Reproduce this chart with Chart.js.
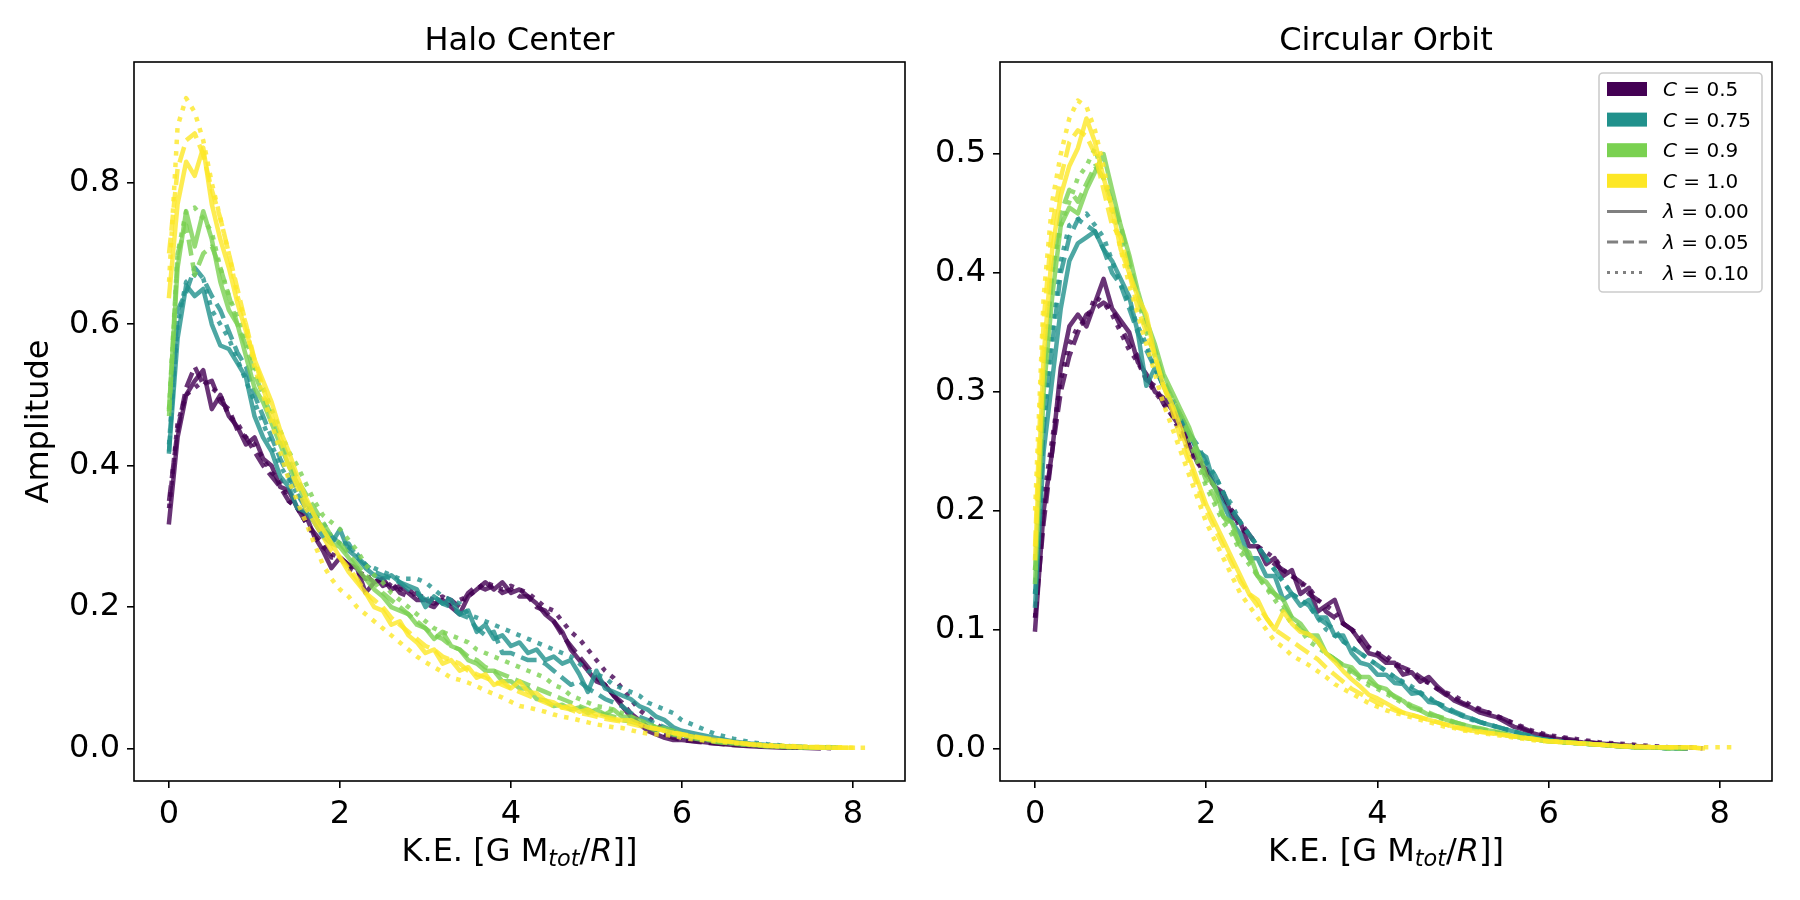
<!DOCTYPE html>
<html><head><meta charset="utf-8">
<script src="https://cdn.jsdelivr.net/npm/chart.js@4.4.1/dist/chart.umd.min.js"></script>
<style>
html,body{margin:0;padding:0;background:#fff;width:1800px;height:900px;overflow:hidden}
canvas{position:absolute;top:0}
#cL{left:0;width:920px;height:900px}
#cR{left:920px;width:880px;height:900px}
</style></head><body>
<canvas id="cL" width="920" height="900"></canvas>
<canvas id="cR" width="880" height="900"></canvas>
<script>
// ---------- data ----------
const KE = [0,0.1,0.2,0.3,0.4,0.5,0.6,0.7,0.8,0.9,
 1.0,1.1,1.2,1.3,1.4,1.5,1.6,1.7,1.8,1.9,
 2.0,2.1,2.2,2.3,2.4,2.5,2.6,2.7,2.8,2.9,
 3.0,3.1,3.2,3.3,3.4,3.5,3.6,3.7,3.8,3.9,
 4.0,4.1,4.2,4.3,4.4,4.5,4.6,4.7,4.8,4.9,
 5.0,5.1,5.2,5.3,5.4,5.5,5.6,5.7,5.8,5.9,
 6.0,6.2,6.4,6.6,6.8,7.0,7.2,7.4,7.6,7.8,8.0,8.2];

const C_LABELS = ['0.5','0.75','0.9','1.0'];
const L_LABELS = ['0.00','0.05','0.10'];
const X_TICKS = [0,2,4,6,8];
const Y_TICKS_HALO = [0,0.2,0.4,0.6,0.8];
const Y_TICKS_CIRC = [0,0.1,0.2,0.3,0.4,0.5];

// Halo Center
const haloC05L00 = [.32,.44,.50,.52,.535,.48,.50,.47,.455,.43,
 .44,.41,.40,.37,.365,.34,.33,.30,.28,.255,
 .27,.26,.255,.22,.235,.24,.225,.23,.22,.21,
 .21,.205,.21,.20,.19,.215,.225,.235,.225,.235,
 .22,.225,.215,.205,.19,.18,.165,.14,.125,.11,
 .095,.09,.075,.06,.045,.035,.025,.02,.015,.012,
 .012,.01,.007,.005,.003,.002,.001,.001,0];
const haloC05L05 = [.35,.45,.51,.54,.515,.52,.49,.48,.45,.44,
 .42,.40,.385,.37,.35,.34,.32,.305,.29,.27,
 .27,.26,.25,.24,.245,.23,.235,.22,.215,.22,
 .205,.20,.215,.21,.20,.22,.23,.225,.23,.22,
 .225,.215,.215,.20,.195,.18,.16,.145,.13,.115,
 .10,.09,.075,.065,.05,.04,.03,.025,.02,.015,
 .012,.009,.007,.005,.004,.003,.002,.001,.001];
const haloC05L10 = [.34,.46,.50,.51,.52,.51,.50,.47,.46,.44,
 .43,.41,.39,.38,.35,.34,.32,.30,.285,.275,
 .27,.255,.25,.245,.235,.24,.23,.225,.225,.215,
 .215,.21,.215,.205,.21,.215,.225,.235,.23,.225,
 .23,.225,.22,.21,.20,.195,.18,.165,.155,.14,
 .125,.11,.10,.085,.07,.055,.045,.035,.025,.02,
 .015,.012,.008,.006,.004,.003,.002,.001,.001,0];
const haloC075L00 = [.42,.58,.655,.64,.65,.60,.57,.565,.545,.525,
 .47,.44,.42,.385,.37,.34,.335,.32,.30,.29,
 .31,.28,.27,.255,.245,.24,.245,.235,.23,.225,
 .20,.215,.205,.21,.19,.195,.165,.175,.155,.16,
 .145,.15,.135,.14,.125,.13,.12,.125,.105,.08,
 .11,.085,.08,.075,.07,.06,.055,.045,.04,.03,
 .025,.02,.015,.01,.007,.005,.003,.002,.001,.001];
const haloC075L05 = [.42,.62,.645,.68,.665,.64,.62,.59,.56,.54,
 .50,.47,.44,.41,.385,.36,.34,.33,.31,.30,
 .29,.29,.27,.26,.25,.245,.24,.235,.225,.22,
 .21,.215,.205,.20,.19,.185,.17,.16,.165,.135,
 .135,.13,.125,.125,.12,.11,.10,.09,.095,.085,
 .078,.07,.065,.06,.05,.045,.04,.035,.03,.025,
 .02,.015,.012,.008,.006,.004,.003,.002,.001,.001];
const haloC075L10 = [.43,.60,.66,.67,.665,.62,.60,.58,.55,.52,
 .49,.46,.43,.40,.38,.36,.345,.33,.32,.30,
 .29,.285,.275,.26,.255,.25,.245,.24,.24,.24,
 .235,.225,.215,.21,.205,.19,.185,.18,.175,.17,
 .165,.16,.155,.15,.145,.14,.135,.13,.12,.11,
 .105,.10,.09,.085,.08,.075,.065,.06,.055,.05,
 .04,.03,.02,.014,.009,.006,.004,.002,.001,.001];
const haloC09L00 = [.48,.68,.76,.71,.76,.72,.66,.62,.60,.555,
 .51,.49,.46,.43,.40,.375,.35,.33,.31,.29,
 .285,.27,.255,.24,.225,.215,.20,.195,.19,.175,
 .17,.155,.165,.145,.14,.125,.12,.11,.11,.095,
 .095,.085,.085,.07,.068,.06,.062,.055,.058,.05,
 .055,.048,.055,.045,.045,.04,.035,.03,.028,.025,
 .02,.015,.01,.008,.006,.004,.003,.002,.001,.001];
const haloC09L05 = [.47,.70,.74,.67,.70,.71,.68,.64,.60,.57,
 .53,.50,.47,.44,.41,.38,.36,.34,.32,.30,
 .29,.275,.26,.245,.235,.22,.21,.20,.19,.18,
 .17,.16,.155,.145,.14,.13,.125,.115,.11,.105,
 .10,.095,.09,.085,.08,.075,.07,.065,.06,.055,
 .05,.048,.045,.04,.038,.035,.03,.025,.022,.02,
 .017,.013,.009,.007,.005,.003,.002,.001,.001,.001];
const haloC09L10 = [.48,.70,.76,.765,.75,.73,.68,.64,.61,.58,
 .54,.51,.48,.45,.42,.40,.375,.35,.33,.32,
 .31,.295,.28,.26,.245,.235,.22,.21,.20,.19,
 .18,.17,.165,.16,.155,.15,.14,.135,.13,.125,
 .12,.115,.11,.105,.10,.09,.085,.075,.07,.065,
 .06,.058,.055,.05,.045,.04,.035,.03,.025,.02,
 .018,.014,.01,.007,.005,.003,.002,.001,.001,.001];
const haloC10L00 = [.64,.77,.83,.81,.85,.77,.72,.68,.63,.59,
 .55,.52,.49,.45,.42,.385,.355,.33,.31,.29,
 .27,.25,.235,.22,.20,.195,.175,.18,.16,.15,
 .135,.14,.12,.125,.11,.115,.10,.105,.09,.095,
 .085,.095,.08,.078,.068,.065,.058,.06,.052,.055,
 .048,.045,.042,.04,.04,.035,.03,.028,.025,.022,
 .02,.015,.012,.009,.006,.004,.003,.002,.001,.001,.001];
const haloC10L05 = [.70,.82,.86,.87,.84,.79,.75,.70,.65,.60,
 .55,.51,.47,.44,.40,.37,.34,.32,.30,.28,
 .27,.255,.24,.22,.21,.20,.185,.175,.165,.155,
 .145,.14,.13,.125,.12,.11,.105,.10,.095,.09,
 .085,.08,.075,.07,.065,.06,.058,.055,.05,.048,
 .045,.042,.04,.038,.035,.032,.03,.028,.025,.022,
 .02,.016,.012,.009,.006,.004,.003,.002,.002,.001,.001];
const haloC10L10 = [.66,.88,.92,.90,.86,.80,.75,.70,.64,.60,
 .54,.50,.46,.42,.38,.35,.32,.29,.26,.24,
 .225,.215,.20,.19,.18,.17,.16,.15,.14,.13,
 .122,.115,.108,.10,.097,.093,.088,.082,.077,.072,
 .066,.06,.058,.055,.052,.048,.045,.043,.04,.037,
 .034,.032,.03,.029,.026,.023,.021,.02,.019,.018,
 .015,.012,.01,.008,.006,.005,.004,.003,.002,.002,.001,.001];

// Circular Orbit
const circC05L00 = [.10,.20,.25,.32,.355,.365,.355,.375,.395,.37,
 .36,.35,.325,.315,.30,.295,.285,.275,.255,.24,
 .235,.22,.215,.195,.19,.17,.17,.155,.16,.145,
 .15,.13,.135,.115,.12,.125,.105,.10,.09,.08,
 .078,.072,.072,.062,.064,.056,.06,.052,.046,.04,
 .037,.034,.03,.028,.026,.022,.018,.016,.013,.011,
 .009,.007,.005,.004,.003,.002,.001,.001,0];
const circC05L05 = [.11,.19,.25,.30,.33,.35,.365,.37,.375,.37,
 .355,.34,.33,.31,.305,.29,.28,.27,.255,.245,
 .235,.22,.21,.20,.19,.18,.17,.16,.155,.15,
 .145,.14,.13,.125,.115,.11,.105,.10,.095,.085,
 .08,.075,.07,.068,.065,.06,.055,.05,.045,.042,
 .038,.035,.032,.03,.027,.024,.02,.017,.014,.012,
 .01,.008,.006,.004,.003,.002,.001,.001,0];
const circC05L10 = [.11,.21,.26,.31,.34,.355,.36,.38,.375,.365,
 .35,.335,.325,.31,.30,.29,.28,.265,.25,.24,
 .23,.22,.21,.20,.185,.18,.17,.165,.16,.15,
 .145,.14,.135,.125,.12,.115,.105,.10,.09,.085,
 .08,.078,.072,.068,.063,.058,.055,.05,.047,.044,
 .04,.036,.033,.03,.027,.024,.021,.018,.015,.013,
 .011,.009,.007,.005,.004,.003,.002,.001,.001,0];
const circC075L00 = [.12,.25,.31,.37,.41,.425,.43,.435,.42,.41,
 .395,.38,.35,.305,.32,.305,.29,.28,.265,.25,
 .245,.22,.205,.19,.18,.16,.16,.145,.145,.125,
 .13,.12,.125,.11,.11,.095,.095,.08,.072,.07,
 .062,.062,.055,.054,.046,.047,.039,.038,.033,.03,
 .027,.025,.022,.02,.018,.016,.014,.012,.01,.008,
 .007,.005,.004,.003,.002,.001,.001,0,0];
const circC075L05 = [.13,.27,.34,.40,.43,.445,.44,.435,.42,.40,
 .39,.37,.35,.335,.32,.305,.29,.28,.265,.255,
 .24,.23,.215,.20,.19,.18,.17,.16,.15,.14,
 .13,.125,.12,.11,.105,.10,.09,.085,.08,.075,
 .07,.065,.06,.055,.05,.046,.042,.038,.035,.031,
 .028,.025,.022,.02,.018,.016,.014,.012,.01,.008,
 .007,.005,.004,.003,.002,.001,.001,0,0];
const circC075L10 = [.13,.28,.35,.41,.44,.445,.45,.44,.43,.41,
 .39,.375,.355,.34,.32,.305,.295,.28,.265,.25,
 .24,.23,.215,.205,.19,.18,.17,.16,.15,.14,
 .13,.125,.12,.11,.10,.095,.09,.085,.08,.075,
 .07,.065,.06,.056,.052,.047,.043,.038,.034,.03,
 .027,.024,.022,.02,.018,.016,.014,.012,.01,.008,
 .007,.005,.004,.003,.002,.001,.001,0,0];
const circC09L00 = [.14,.30,.38,.44,.455,.45,.47,.485,.50,.47,
 .44,.415,.385,.36,.34,.315,.30,.285,.27,.25,
 .23,.22,.195,.19,.17,.165,.145,.14,.13,.125,
 .11,.105,.095,.095,.08,.075,.07,.068,.06,.06,
 .052,.05,.043,.04,.034,.032,.028,.027,.024,.022,
 .02,.018,.017,.015,.014,.012,.01,.009,.008,.007,
 .006,.005,.004,.003,.002,.001,.001,0,0];
const circC09L05 = [.15,.31,.40,.45,.47,.46,.475,.49,.48,.46,
 .44,.41,.38,.355,.335,.31,.295,.28,.265,.245,
 .225,.21,.195,.185,.17,.16,.145,.135,.13,.12,
 .11,.10,.095,.09,.08,.075,.07,.065,.06,.056,
 .052,.048,.044,.04,.036,.033,.03,.027,.025,.022,
 .02,.018,.016,.015,.013,.012,.01,.009,.008,.007,
 .006,.005,.004,.003,.002,.001,.001,0,0];
const circC09L10 = [.15,.32,.40,.44,.46,.48,.49,.505,.48,.455,
 .43,.405,.38,.35,.33,.31,.29,.275,.26,.24,
 .22,.205,.19,.18,.165,.155,.145,.135,.125,.115,
 .105,.10,.09,.085,.08,.075,.068,.063,.058,.053,
 .05,.046,.042,.038,.035,.032,.029,.026,.024,.021,
 .019,.017,.016,.014,.013,.011,.01,.009,.008,.007,
 .006,.005,.004,.003,.002,.001,.001,0,0];
const circC10L00 = [.16,.33,.42,.465,.49,.505,.53,.51,.48,.455,
 .42,.40,.38,.365,.33,.305,.29,.27,.245,.225,
 .205,.19,.175,.16,.145,.13,.125,.11,.10,.115,
 .105,.098,.096,.09,.08,.073,.065,.058,.052,.045,
 .042,.038,.034,.03,.028,.026,.024,.022,.02,.018,
 .017,.015,.014,.013,.012,.011,.01,.009,.008,.007,
 .006,.005,.004,.003,.002,.001,.001,.001,.001,0];
const circC10L05 = [.17,.36,.44,.48,.51,.52,.515,.50,.47,.44,
 .43,.40,.37,.35,.33,.305,.285,.26,.24,.22,
 .20,.185,.17,.155,.14,.13,.12,.11,.10,.095,
 .09,.085,.08,.075,.068,.062,.056,.05,.046,.042,
 .038,.035,.032,.03,.028,.026,.024,.022,.02,.018,
 .016,.015,.014,.013,.012,.011,.01,.009,.008,.007,
 .006,.005,.004,.003,.002,.002,.001,.001,.001,0];
const circC10L10 = [.20,.38,.46,.50,.53,.545,.54,.52,.49,.45,
 .42,.39,.365,.34,.315,.29,.27,.25,.23,.21,
 .19,.175,.16,.145,.13,.12,.11,.10,.09,.085,
 .078,.074,.07,.065,.06,.054,.05,.046,.042,.038,
 .035,.032,.03,.028,.026,.024,.022,.02,.018,.017,
 .015,.014,.013,.012,.011,.01,.009,.008,.007,.006,
 .006,.005,.004,.003,.002,.002,.001,.001,.001,.001,.001,.001];

const HALO_SERIES = [[haloC05L00,haloC05L05,haloC05L10],[haloC075L00,haloC075L05,haloC075L10],
                     [haloC09L00,haloC09L05,haloC09L10],[haloC10L00,haloC10L05,haloC10L10]];
const CIRC_SERIES = [[circC05L00,circC05L05,circC05L10],[circC075L00,circC075L05,circC075L10],
                     [circC09L00,circC09L05,circC09L10],[circC10L00,circC10L05,circC10L10]];

// ---------- styles ----------
const COLORS = [[68,1,84],[33,145,140],[122,209,81],[253,231,37]];
const DASHES = [[], [16,7], [4.5,7]];
const LEG_DASHES = [[], [11.1,4.8], [3,5]];
const FONT = '"DejaVu Sans", sans-serif';

function buildDatasets(series){
  const ds = [];
  let i = 0;
  series.forEach((grp, ci) => grp.forEach((ys, li) => {
    const c = COLORS[ci];
    ds.push({
      data: ys.map((y, k) => ({x: KE[k], y: y})),
      borderColor: `rgba(${c[0]},${c[1]},${c[2]},0.8)`,
      borderWidth: 4.5,
      borderDash: DASHES[li],
      borderCapStyle: li === 0 ? 'square' : 'butt',
      borderJoinStyle: 'round',
      pointRadius: 0, pointHoverRadius: 0,
      tension: 0, fill: false,
      order: 12 - i
    });
    i++;
  }));
  return ds;
}

function drawRuns(ctx, runs, cx, y){
  let total = 0;
  runs.forEach(r => { ctx.font = r.f; r.w = ctx.measureText(r.t).width; total += r.w; });
  let x = cx - total/2;
  ctx.textAlign = 'left';
  runs.forEach(r => { ctx.font = r.f; ctx.fillText(r.t, x, y + (r.dy||0)); x += r.w; });
}

function xLabelRuns(){
  return [
    {t:'K.E. [G M', f:'32px '+FONT},
    {t:'tot', f:'italic 22.4px '+FONT, dy:5},
    {t:'/', f:'32px '+FONT},
    {t:'R', f:'italic 32px '+FONT},
    {t:']]', f:'32px '+FONT}
  ];
}

function roundRect(ctx, x, y, w, h, r){
  ctx.beginPath();
  ctx.moveTo(x+r, y); ctx.lineTo(x+w-r, y); ctx.arcTo(x+w, y, x+w, y+r, r);
  ctx.lineTo(x+w, y+h-r); ctx.arcTo(x+w, y+h, x+w-r, y+h, r);
  ctx.lineTo(x+r, y+h); ctx.arcTo(x, y+h, x, y+h-r, r);
  ctx.lineTo(x, y+r); ctx.arcTo(x, y, x+r, y, r);
  ctx.closePath();
}

function drawLegend(ctx, offX){
  const L = 1599 - offX, T = 73, W = 163, H = 219;
  ctx.save();
  roundRect(ctx, L, T, W, H, 4);
  ctx.fillStyle = 'rgba(255,255,255,0.8)'; ctx.fill();
  ctx.strokeStyle = '#cccccc'; ctx.lineWidth = 1.6; ctx.stroke();
  const px = L + 8, pw = 40, tx = L + 64;
  let row = 0;
  const rowY = k => 89 + k*30.6;
  C_LABELS.forEach((lab, ci) => {
    const cy = rowY(row++);
    const c = COLORS[ci];
    ctx.fillStyle = `rgb(${c[0]},${c[1]},${c[2]})`;
    ctx.fillRect(px, cy - 7, pw, 14);
    ctx.fillStyle = '#000';
    ctx.textBaseline = 'alphabetic';
    ctx.textAlign = 'left';
    ctx.font = 'italic 20px '+FONT; ctx.fillText('C', tx, cy + 7);
    const w = ctx.measureText('C').width;
    ctx.font = '20px '+FONT; ctx.fillText(' = ' + lab, tx + w, cy + 7);
  });
  L_LABELS.forEach((lab, li) => {
    const cy = rowY(row++);
    ctx.strokeStyle = '#808080'; ctx.lineWidth = 3;
    ctx.setLineDash(LEG_DASHES[li]); ctx.lineCap = 'butt';
    ctx.beginPath(); ctx.moveTo(px, cy); ctx.lineTo(px + pw, cy); ctx.stroke();
    ctx.setLineDash([]);
    ctx.fillStyle = '#000';
    ctx.font = 'italic 20px '+FONT; ctx.fillText('λ', tx, cy + 7);
    const w = ctx.measureText('λ').width;
    ctx.font = '20px '+FONT; ctx.fillText(' = ' + lab, tx + w, cy + 7);
  });
  ctx.restore();
}

function decoPlugin(cfg){
  return {
    id: 'deco',
    afterDraw(chart){
      const ctx = chart.ctx, a = chart.chartArea;
      ctx.save();
      ctx.strokeStyle = '#000'; ctx.lineWidth = 1.6; ctx.setLineDash([]);
      ctx.strokeRect(a.left, a.top, a.right - a.left, a.bottom - a.top);
      ctx.fillStyle = '#000';
      ctx.textBaseline = 'alphabetic';
      ctx.textAlign = 'center';
      ctx.font = '32px '+FONT;
      ctx.fillText(cfg.title, (a.left + a.right)/2, 50);
      drawRuns(ctx, xLabelRuns(), (a.left + a.right)/2, 861);
      if (cfg.ylabel){
        ctx.save();
        ctx.translate(48, (a.top + a.bottom)/2);
        ctx.rotate(-Math.PI/2);
        ctx.textAlign = 'center';
        ctx.font = '32px '+FONT;
        ctx.fillText(cfg.ylabel, 0, 0);
        ctx.restore();
      }
      if (cfg.legend) drawLegend(ctx, cfg.offX);
      ctx.restore();
    }
  };
}

function makeOptions(o){
  const tickFont = {family: FONT, size: 32};
  const grid = {display: true, drawOnChartArea: false, drawTicks: true, tickLength: 7, color: '#000', lineWidth: 1.6};
  return {
    responsive: false, animation: false, devicePixelRatio: 1,
    layout: {padding: {top: 62, right: o.padRight, bottom: 0, left: 0}, autoPadding: false},
    plugins: {legend: {display: false}, tooltip: {enabled: false}, title: {display: false}},
    events: [],
    scales: {
      x: {
        type: 'linear', min: -0.41, max: 8.61,
        afterBuildTicks: s => { s.ticks = X_TICKS.map(v => ({value: v})); },
        afterFit: s => { s.height = 119; },
        grid: grid, border: {display: false},
        ticks: {font: tickFont, color: '#000', padding: 7, maxRotation: 0, autoSkip: false,
                callback: v => String(v)}
      },
      y: {
        type: 'linear', min: o.ymin, max: o.ymax,
        afterBuildTicks: s => { s.ticks = o.yticks.map(v => ({value: v})); },
        afterFit: s => { s.width = o.yWidth; },
        grid: grid, border: {display: false},
        ticks: {font: tickFont, color: '#000', padding: 7, autoSkip: false,
                callback: v => Number(v).toFixed(1)}
      }
    }
  };
}

new Chart(document.getElementById('cL'), {
  type: 'line',
  data: {datasets: buildDatasets(HALO_SERIES)},
  options: makeOptions({padRight: 15, yWidth: 134, ymin: -0.046, ymax: 0.971, yticks: Y_TICKS_HALO}),
  plugins: [decoPlugin({title: 'Halo Center', ylabel: 'Amplitude', legend: false})]
});

new Chart(document.getElementById('cR'), {
  type: 'line',
  data: {datasets: buildDatasets(CIRC_SERIES)},
  options: makeOptions({padRight: 28, yWidth: 80, ymin: -0.0275, ymax: 0.5775, yticks: Y_TICKS_CIRC}),
  plugins: [decoPlugin({title: 'Circular Orbit', ylabel: null, legend: true, offX: 920})]
});
</script>
</body></html>
